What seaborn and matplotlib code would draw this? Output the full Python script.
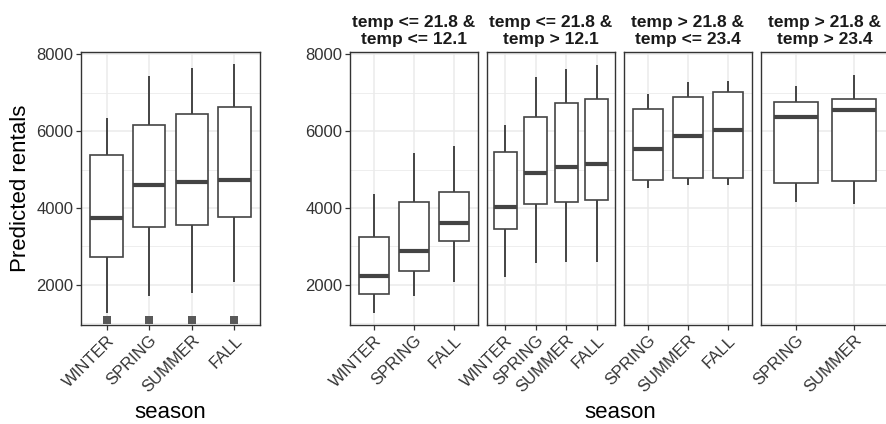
import numpy as np
import pandas as pd
import matplotlib
matplotlib.use("Agg")
import matplotlib.pyplot as plt
from matplotlib.ticker import MultipleLocator
import seaborn as sns

sns.set_theme(style="white")
plt.rcParams['font.family'] = ['Liberation Sans', 'DejaVu Sans']

# ---------------- data ----------------
# each stats row: [lower whisker, Q1, median, Q3, upper whisker]
overall_seasons = ["WINTER", "SPRING", "SUMMER", "FALL"]
overall_stats = [
    [1264, 2727, 3749, 5377, 6329],
    [1723, 3506, 4606, 6156, 7429],
    [1784, 3550, 4684, 6433, 7628],
    [2087, 3758, 4736, 6623, 7740],
]
overall_low_points = [1090, 1090, 1090, 1090]

panel_titles = [
    "temp <= 21.8 &\ntemp <= 12.1",
    "temp <= 21.8 &\ntemp > 12.1",
    "temp > 21.8 &\ntemp <= 23.4",
    "temp > 21.8 &\ntemp > 23.4",
]
p1_seasons = ["WINTER", "SPRING", "FALL"]
p1_stats = [
    [1283, 1767, 2242, 3252, 4374],
    [1724, 2362, 2889, 4158, 5436],
    [2086, 3148, 3614, 4426, 5600],
]
p2_seasons = ["WINTER", "SPRING", "SUMMER", "FALL"]
p2_stats = [
    [2198, 3467, 4020, 5462, 6144],
    [2578, 4106, 4909, 6360, 7413],
    [2604, 4167, 5065, 6731, 7612],
    [2587, 4210, 5142, 6843, 7724],
]
p3_seasons = ["SPRING", "SUMMER", "FALL"]
p3_stats = [
    [4529, 4728, 5531, 6567, 6964],
    [4607, 4780, 5868, 6895, 7283],
    [4607, 4780, 6023, 7024, 7309],
]
p4_seasons = ["SPRING", "SUMMER"]
p4_stats = [
    [4158, 4642, 6360, 6765, 7171],
    [4106, 4702, 6550, 6843, 7465],
]

# ---------------- styling ----------------
W, H = 887, 424
LINE = "#333333"
BOXC = "#444444"
GRID = "#EBEBEB"
TICKC = "#333333"
TICKFS = 12
TITLEFS = 16


def to_frame(seasons, stats):
    rows = []
    for s, st in zip(seasons, stats):
        for v in st:
            rows.append({"season": s, "pred": v})
    return pd.DataFrame(rows)


def style_axis(ax, n, show_y):
    ax.set_xlim(-0.6, n - 0.4)
    ax.set_ylim(960, 8040)
    ax.yaxis.set_major_locator(MultipleLocator(2000))
    ax.yaxis.set_minor_locator(MultipleLocator(1000))
    ax.set_axisbelow(True)
    ax.grid(which="major", color=GRID, linewidth=1.1)
    ax.grid(which="minor", axis="y", color=GRID, linewidth=0.6)
    for sp in ax.spines.values():
        sp.set_color(LINE)
        sp.set_linewidth(1.0)
        sp.set_visible(True)
    ax.tick_params(axis="both", which="major", length=3.5, width=0.9,
                   color=LINE, labelcolor=TICKC, labelsize=TICKFS, pad=2,
                   bottom=True, left=show_y)
    ax.tick_params(axis="y", which="minor", length=0, left=False)
    for lab in ax.get_xticklabels():
        lab.set_rotation(45)
        lab.set_ha("right")
        lab.set_va("top")
        lab.set_rotation_mode("anchor")
    if not show_y:
        ax.set_yticklabels([])
    ax.set_xlabel("")
    ax.set_ylabel("")


def draw_box(ax, seasons, stats):
    df = to_frame(seasons, stats)
    sns.boxplot(data=df, x="season", y="pred", order=seasons, ax=ax,
                whis=(0, 100), width=0.76, color="white", linecolor=BOXC,
                linewidth=1.2, showfliers=False,
                medianprops={"linewidth": 3.0, "color": BOXC},
                whiskerprops={"linewidth": 1.4},
                capprops={"linewidth": 0})


fig = plt.figure(figsize=(W / 100, H / 100), dpi=100)


def px_axes(x0, x1, ytop, ybot):
    return fig.add_axes([x0 / W, (H - ybot) / H, (x1 - x0) / W, (ybot - ytop) / H])


# left panel
axL = px_axes(81, 260, 52.5, 325)
draw_box(axL, overall_seasons, overall_stats)
pts = pd.DataFrame({"season": overall_seasons, "pred": overall_low_points})
sns.stripplot(data=pts, x="season", y="pred", order=overall_seasons, ax=axL,
              jitter=False, marker="s", color="#595959", size=5.5, linewidth=0)
style_axis(axL, len(overall_seasons), True)
axL.set_ylabel("Predicted rentals", fontsize=TITLEFS, color="black", labelpad=4)

# right facets
facets = [(p1_seasons, p1_stats), (p2_seasons, p2_stats),
          (p3_seasons, p3_stats), (p4_seasons, p4_stats)]
for i, ((seas, st), title) in enumerate(zip(facets, panel_titles)):
    x0 = 350 + i * 137
    ax = px_axes(x0, x0 + 128, 52.5, 325)
    draw_box(ax, seas, st)
    style_axis(ax, len(seas), i == 0)
    ax.set_title(title, fontsize=12.5, fontweight="bold", color="#1A1A1A",
                 pad=6, linespacing=1.15)

for xc in (170.5, 620):
    fig.text(xc / W, 1 - 413 / H, "season", fontsize=TITLEFS, color="black",
             ha="center", va="center")

fig.savefig("out.png", dpi=100)
